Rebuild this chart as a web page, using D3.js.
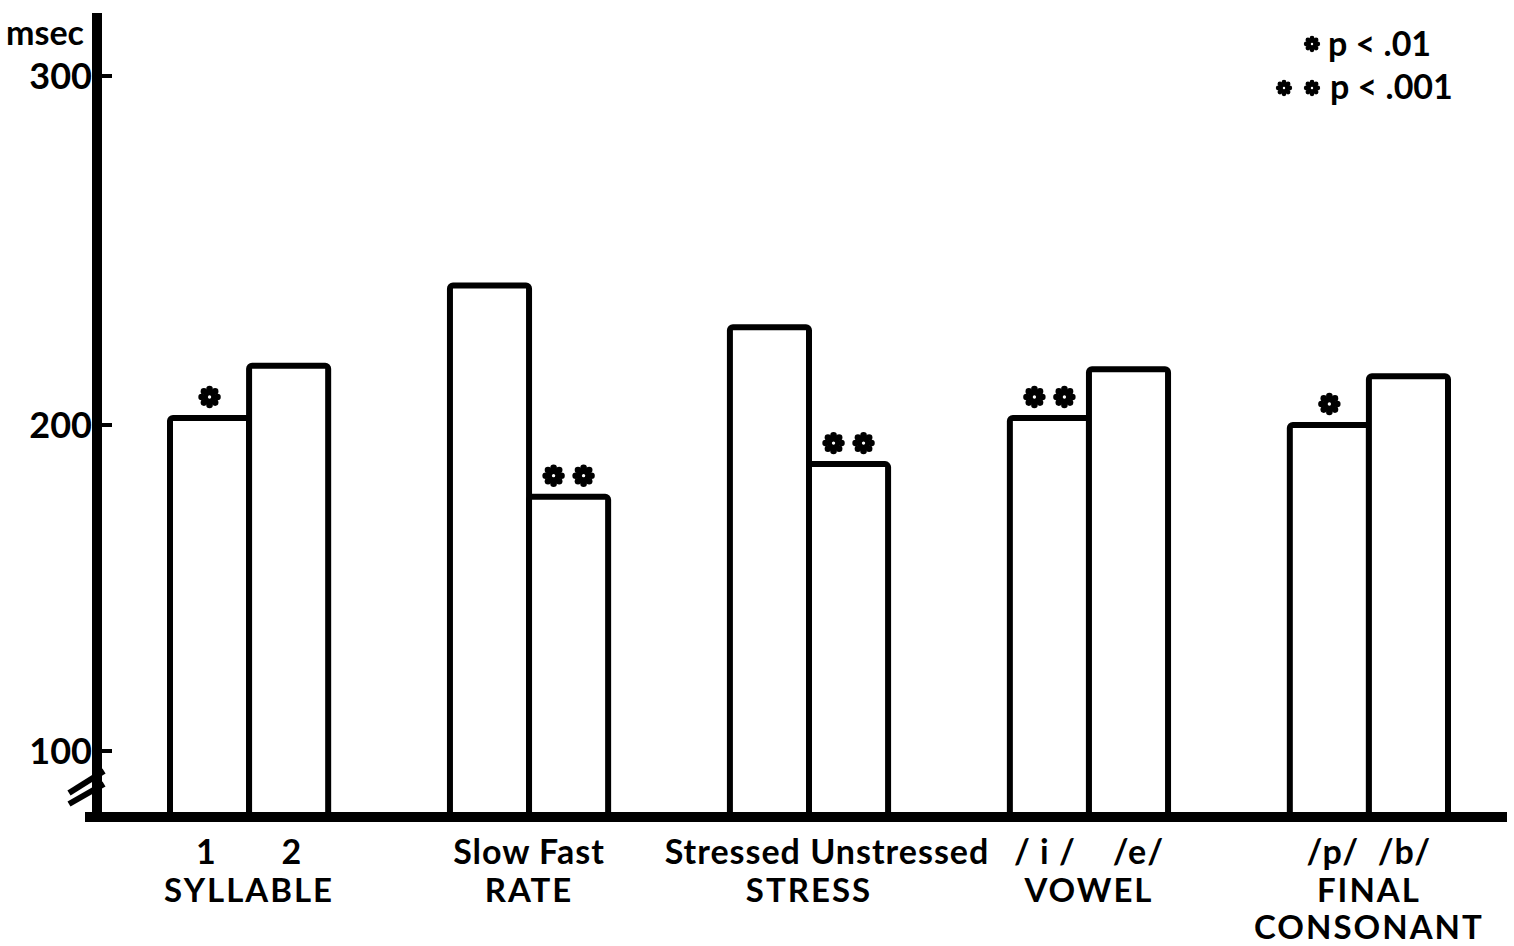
<script src="https://cdnjs.cloudflare.com/ajax/libs/d3/7.8.5/d3.min.js"></script>
<style>
  body { margin: 0; background: #fff; }
  text { font-family: Lato, "Open Sans", sans-serif; font-weight: bold; fill: #000; }
</style>
<div id="container"></div>
<script>
  // chart data
  const groups = ["SYLLABLE", "RATE", "STRESS", "VOWEL", "FINAL CONSONANT"];
  const barLabels = ["1       2", "Slow Fast", "Stressed Unstressed", "/ i /    /e/", "/p/  /b/"];
  const firstValues = [202, 240, 228, 202, 200];
  const secondValues = [217, 178, 188, 216, 214];
  // number of significance stars over each bar
  const firstStars = [1, 0, 0, 2, 1];
  const secondStars = [0, 2, 2, 0, 0];
  const yTicks = [100, 200, 300];

  width = 1514
  height = 946
  baseline = 817

  var svg = d3.select("#container").append("svg")
    .attr("width", width)
    .attr("height", height);

  // the scanned axis is not quite even, so map each tick
  var y = d3.scaleLinear()
    .domain([100, 200, 300])
    .range([751, 425, 76]);

  var x = d3.scaleBand()
    .domain(groups)
    .range([170, 1448])
    .paddingInner(0.435);

  var xi = d3.scaleBand()
    .domain([0, 1])
    .range([0, x.bandwidth()]);

  var rows = groups.map(function(g, i) {
      return [
        {group: g, k: 0, value: firstValues[i], stars: firstStars[i]},
        {group: g, k: 1, value: secondValues[i], stars: secondStars[i]}
      ];
  }).flat();

  // bars
  svg.selectAll("rect.bar")
    .data(rows)
    .enter().append("rect")
    .attr("class", "bar")
    .attr("x", d => x(d.group) + xi(d.k))
    .attr("y", d => y(d.value))
    .attr("width", xi.bandwidth())
    .attr("height", d => baseline - y(d.value))
    .attr("rx", 3)
    .attr("fill", "white")
    .attr("stroke", "black")
    .attr("stroke-width", 6);

  // flower shaped asterisk
  function star(g, cx, cy, r) {
      var s = g.append("g").attr("transform", "translate(" + cx + "," + cy + ")");
      for (var a = 0; a < 8; a++) {
          var t = a * Math.PI / 4;
          s.append("circle")
            .attr("cx", Math.cos(t) * r * 0.72)
            .attr("cy", Math.sin(t) * r * 0.72)
            .attr("r", r * 0.3);
      }
      s.append("circle").attr("r", r * 0.6);
      s.append("circle").attr("r", r * 0.15).attr("fill", "white");
  }

  rows.forEach(function(d) {
      var cx = x(d.group) + xi(d.k) + xi.bandwidth() / 2;
      var cy = y(d.value) - 21;
      if (d.stars == 1) {
          star(svg, cx, cy, 11);
      } else if (d.stars == 2) {
          star(svg, cx - 15, cy, 11);
          star(svg, cx + 15, cy, 11);
      }
  });

  // y axis
  svg.append("line")
    .attr("x1", 97).attr("x2", 97)
    .attr("y1", 13).attr("y2", 822)
    .attr("stroke", "black")
    .attr("stroke-width", 10);

  // x axis
  svg.append("line")
    .attr("x1", 85).attr("x2", 1507)
    .attr("y1", baseline).attr("y2", baseline)
    .attr("stroke", "black")
    .attr("stroke-width", 10);

  // axis break
  [[793, 771], [804, 784]].forEach(function(p) {
      svg.append("line")
        .attr("x1", 69).attr("y1", p[0])
        .attr("x2", 104).attr("y2", p[1])
        .attr("stroke", "black")
        .attr("stroke-width", 6);
  });

  // ticks
  yTicks.forEach(function(t) {
      svg.append("line")
        .attr("x1", 97).attr("x2", 112)
        .attr("y1", y(t)).attr("y2", y(t))
        .attr("stroke", "black")
        .attr("stroke-width", 4);
      svg.append("text")
        .attr("x", 92)
        .attr("y", y(t) + 13)
        .attr("text-anchor", "end")
        .attr("font-size", 36)
        .text(t);
  });

  svg.append("text")
    .attr("x", 6)
    .attr("y", 45)
    .attr("font-size", 34)
    .text("msec");

  // category labels
  groups.forEach(function(g, i) {
      var cx = x(g) + x.bandwidth() / 2;
      svg.append("text")
        .attr("x", cx + (i == 2 ? 18 : 0))
        .attr("y", 864)
        .attr("text-anchor", "middle")
        .attr("font-size", 34)
        .attr("letter-spacing", 1)
        .style("white-space", "pre")
        .text(barLabels[i]);
      g.split(" ").forEach(function(w, j) {
          svg.append("text")
            .attr("x", cx)
            .attr("y", 902 + j * 37)
            .attr("text-anchor", "middle")
            .attr("font-size", 33)
            .attr("letter-spacing", 2)
            .text(w);
      });
  });

  // legend
  star(svg, 1312, 44, 8);
  svg.append("text")
    .attr("x", 1328).attr("y", 56)
    .attr("font-size", 34)
    .style("white-space", "pre")
    .text("p < .01");
  star(svg, 1284, 88, 8);
  star(svg, 1312, 88, 8);
  svg.append("text")
    .attr("x", 1330).attr("y", 99)
    .attr("font-size", 34)
    .style("white-space", "pre")
    .text("p < .001");
</script>
